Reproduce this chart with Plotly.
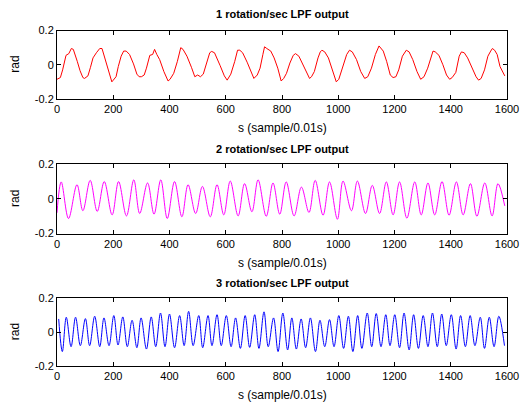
import plotly.graph_objects as go

# ---------------- data ----------------
s1 = [0, 12, 20, 28, 32, 42, 51, 58, 65, 72, 82, 92, 98, 110, 119, 128, 140, 152, 160, 168,
      180, 188, 195, 200, 210, 218, 228, 237, 246, 258, 272, 284, 292, 300, 310, 318, 330, 340,
      347, 355, 365, 380, 395, 402, 415, 428, 440, 448, 462, 478, 490, 500, 510, 520, 532, 543,
      550, 560, 580, 595, 605, 618, 632, 642, 650, 660, 676, 690, 700, 712, 722, 732, 738, 746,
      760, 772, 785, 797, 806, 816, 828, 840, 848, 860, 875, 890, 898, 905, 915, 928, 936, 942,
      952, 965, 980, 993, 1002, 1015, 1030, 1040, 1050, 1065, 1080, 1094, 1105, 1118, 1132,
      1145, 1152, 1160, 1172, 1185, 1195, 1205, 1215, 1228, 1242, 1252, 1265, 1280, 1293, 1305,
      1318, 1330, 1337, 1345, 1358, 1372, 1385, 1396, 1405, 1418, 1430, 1438, 1448, 1460, 1475,
      1490, 1499, 1508, 1520, 1532, 1542, 1548, 1556, 1565, 1575, 1585, 1592]
v1 = [-0.085, -0.075, -0.03, 0.02, 0.055, 0.065, 0.095, 0.09, 0.06, 0.02, -0.035, -0.075, -0.08,
      -0.065, -0.015, 0.04, 0.07, 0.095, 0.095, 0.05, -0.015, -0.07, -0.10, -0.09, -0.07, -0.01,
      0.05, 0.08, 0.08, 0.06, 0.005, -0.055, -0.07, -0.07, -0.06, -0.02, 0.055, 0.06, 0.09, 0.06,
      0.03, -0.04, -0.095, -0.085, -0.05, 0.02, 0.10, 0.09, 0.05, -0.015, -0.07, -0.06, -0.07,
      -0.055, 0.005, 0.07, 0.078, 0.07, -0.005, -0.065, -0.09, -0.055, 0.02, 0.085, 0.085, 0.07,
      0.015, -0.04, -0.08, -0.06, -0.02, 0.06, 0.105, 0.095, 0.08, 0.04, -0.02, -0.095, -0.08,
      -0.05, 0.01, 0.055, 0.065, 0.05, 0.0, -0.06, -0.08, -0.07, -0.04, 0.04, 0.075, 0.085, 0.075,
      0.04, -0.03, -0.10, -0.085, -0.02, 0.06, 0.085, 0.075, 0.03, -0.04, -0.08, -0.07, -0.02,
      0.06, 0.11, 0.095, 0.08, 0.02, -0.06, -0.075, -0.07, -0.03, 0.05, 0.085, 0.075, 0.03, -0.04,
      -0.085, -0.07, -0.02, 0.05, 0.08, 0.075, 0.055, 0.0, -0.06, -0.085, -0.075, -0.045, 0.05,
      0.075, 0.07, 0.04, -0.02, -0.07, -0.09, -0.08, -0.03, 0.05, 0.08, 0.095, 0.085, 0.06, -0.01,
      -0.045, -0.065]

s2 = [0, 15, 41, 71, 92, 118, 143, 168, 196, 219, 247, 273, 294, 322, 345, 369, 392, 418, 444,
      466, 493, 517, 545, 569, 593, 616, 644, 667, 693, 715, 744, 768, 792, 815, 843, 869, 896,
      918, 946, 969, 997, 1017, 1047, 1068, 1097, 1121, 1147, 1171, 1195, 1218, 1244, 1272, 1295,
      1319, 1343, 1369, 1394, 1420, 1444, 1470, 1493, 1521, 1547, 1568, 1592]
v2 = [-0.08, 0.098, -0.113, 0.082, -0.068, 0.107, -0.072, 0.10, -0.092, 0.10, -0.098, 0.11,
      -0.084, 0.092, -0.088, 0.11, -0.113, 0.10, -0.103, 0.082, -0.084, 0.072, -0.103, 0.082,
      -0.092, 0.103, -0.098, 0.088, -0.074, 0.11, -0.10, 0.092, -0.088, 0.098, -0.098, 0.068,
      -0.078, 0.107, -0.094, 0.098, -0.117, 0.103, -0.068, 0.103, -0.084, 0.078, -0.084, 0.098,
      -0.092, 0.098, -0.111, 0.098, -0.092, 0.092, -0.092, 0.10, -0.094, 0.098, -0.092, 0.088,
      -0.10, 0.092, -0.098, 0.088, -0.04]

peak3_x = [6, 33, 66, 101, 134, 167, 202, 234, 267, 299, 335, 368, 400, 436, 468, 504, 537, 569,
           602, 635, 669, 703, 736, 770, 803, 835, 868, 901, 935, 969, 1002, 1036, 1069, 1103,
           1135, 1169, 1201, 1234, 1268, 1302, 1335, 1368, 1402, 1435, 1469, 1505, 1537, 1571]
peak3_v = [0.078, 0.088, 0.088, 0.08, 0.094, 0.084, 0.098, 0.09, 0.07, 0.084, 0.09, 0.113, 0.107,
           0.098, 0.123, 0.098, 0.098, 0.103, 0.098, 0.084, 0.098, 0.103, 0.12, 0.084, 0.113,
           0.084, 0.078, 0.084, 0.07, 0.074, 0.098, 0.094, 0.098, 0.113, 0.11, 0.103, 0.103,
           0.113, 0.103, 0.098, 0.113, 0.107, 0.103, 0.098, 0.098, 0.088, 0.088, 0.094]
trough3_x = [19, 50, 83, 116, 152, 185, 217, 250, 284, 318, 351, 384, 418, 452, 484, 518, 551,
             584, 619, 652, 685, 718, 751, 786, 820, 851, 884, 919, 952, 985, 1019, 1052, 1084,
             1119, 1152, 1184, 1218, 1252, 1285, 1319, 1352, 1384, 1419, 1452, 1486, 1520, 1554, 1591]
trough3_v = [-0.115, -0.086, -0.08, -0.08, -0.086, -0.08, -0.076, -0.086, -0.092, -0.10, -0.086,
             -0.086, -0.092, -0.08, -0.08, -0.092, -0.080, -0.080, -0.086, -0.096, -0.090, -0.096,
             -0.086, -0.115, -0.105, -0.10, -0.092, -0.115, -0.086, -0.086, -0.096, -0.115, -0.096,
             -0.086, -0.086, -0.080, -0.092, -0.105, -0.096, -0.086, -0.086, -0.080, -0.10, -0.086,
             -0.080, -0.096, -0.086, -0.080]

x_ticks = [0, 200, 400, 600, 800, 1000, 1200, 1400, 1600]
y_ticks = [-0.2, 0, 0.2]
y_tick_text = ["-0.2", "0", "0.2"]
titles = ["1 rotation/sec LPF output", "2 rotation/sec LPF output", "3 rotation/sec LPF output"]
x_label = "s (sample/0.01s)"
y_label = "rad"
colors = ["#ff0000", "#ff00ff", "#0000ff"]

# merge peaks/troughs of series 3 in sample order
pts3 = sorted(zip(peak3_x + trough3_x, peak3_v + trough3_v))
s3 = [p[0] for p in pts3]
v3 = [p[1] for p in pts3]

# ---------------- figure ----------------
W, H = 531, 403
fig = go.Figure()
series = [(s1, v1, "linear"), (s2, v2, "spline"), (s3, v3, "spline")]
for i, (sx, sy, shape) in enumerate(series):
    n = "" if i == 0 else str(i + 1)
    line = dict(color=colors[i], width=1, shape=shape)
    if shape == "spline":
        line["smoothing"] = 1.0
    fig.add_trace(go.Scatter(x=sx, y=sy, mode="lines", line=line,
                             xaxis="x" + n, yaxis="y" + n, showlegend=False,
                             hoverinfo="skip"))


def ypix(y):
    # layout pixel needed so that the photographed pixel lands on y
    return (y - 8.0) * 403.0 / 387.0


# target pixel boxes (top, bottom) of each axes, and title / x-label centres
boxes = [(32.3, 100.0), (164.6, 233.3), (297.3, 364.3)]
title_y = [15.7, 149.3, 281.7]
xlab_y = [128.5, 262.0, 393.3]
font = dict(family="Liberation Sans, Arial, sans-serif", size=11, color="black")
annotations = []
for i, (top, bot) in enumerate(boxes):
    n = "" if i == 0 else str(i + 1)
    dom = [1 - ypix(bot) / H, 1 - ypix(top) / H]
    ax_common = dict(showline=True, linecolor="black", linewidth=1, mirror="allticks",
                     ticks="inside", ticklen=4, tickcolor="black", showgrid=False,
                     zeroline=False, tickfont=font)
    fig.layout["xaxis" + n] = dict(ax_common, domain=[0, 1], range=[0, 1600],
                                   tickvals=x_ticks, anchor="y" + n)
    fig.layout["yaxis" + n] = dict(ax_common, domain=dom, range=[-0.2, 0.2],
                                   tickvals=y_ticks, ticktext=y_tick_text, anchor="x" + n)
    annotations.append(dict(text="<b>" + titles[i] + "</b>", xref="paper", yref="paper",
                            x=0.5, y=1 - ypix(title_y[i]) / H, showarrow=False, font=font,
                            xanchor="center", yanchor="middle"))
    annotations.append(dict(text=x_label, xref="paper", yref="paper", x=0.5,
                            y=1 - ypix(xlab_y[i]) / H, showarrow=False,
                            font=dict(font, size=12), xanchor="center", yanchor="middle"))
    annotations.append(dict(text=y_label, xref="paper", yref="paper",
                            x=(15 - 57) / 450, y=1 - ypix((top + bot) / 2) / H, textangle=-90,
                            showarrow=False, font=dict(font, size=12),
                            xanchor="center", yanchor="middle"))

fig.update_layout(width=W, height=H, autosize=False, margin=dict(l=57, r=24, t=0, b=0),
                  paper_bgcolor="white", plot_bgcolor="white",
                  annotations=annotations, showlegend=False)

fig.write_html("out.html",
               config={"displayModeBar": False, "responsive": False},
               post_script="document.body.style.margin='0';document.body.style.overflow='hidden';")
